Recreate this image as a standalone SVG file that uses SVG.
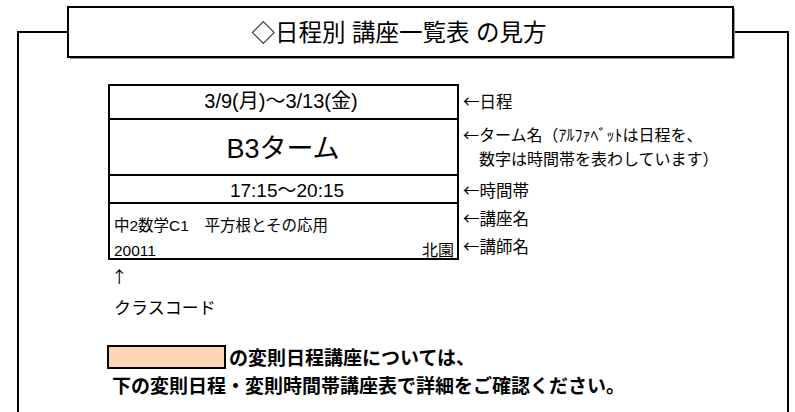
<svg xmlns="http://www.w3.org/2000/svg" width="795" height="412" viewBox="0 0 795 412">
<style>
.ln{fill:none;stroke:#000;stroke-width:2}
.t{font-family:"Liberation Sans","Noto Sans CJK JP",sans-serif;fill:#000}
.j{font-family:"Noto Sans CJK JP","Liberation Sans",sans-serif;fill:#000}
.b{font-weight:bold}
</style>
<rect width="795" height="412" fill="#fff"/>
<g id="frame">
<path class="ln" d="M18,412 V32 H68 M733,32 H788 V412"/>
</g>
<g id="title">
<path d="M70,58.5 H734.5 V9" fill="none" stroke="#999" stroke-width="1"/>
<rect class="ln" x="68" y="7" width="665" height="50" fill="#fff"/>
<text class="t" x="399" y="41" font-size="23.5" text-anchor="middle">◇日程別 講座一覧表 の見方</text>
</g>
<g id="table">
<rect class="ln" x="109" y="85" width="349" height="174"/>
<path class="ln" d="M109,119 H458 M109,175 H458 M109,203 H458"/>
<text class="t" x="281" y="108" font-size="20" text-anchor="middle">3/9(月)～3/13(金)</text>
<text class="t" x="283" y="158" font-size="27" text-anchor="middle">B3ターム</text>
<text class="t" x="287" y="197" font-size="19" text-anchor="middle">17:15～20:15</text>
<text class="t" x="114" y="231" font-size="15.5">中2数学C1　平方根とその応用</text>
<text class="t" x="114" y="256" font-size="15.5">20011</text>
<text class="t" x="454" y="256" font-size="16" text-anchor="end">北園</text>
</g>
<g id="labels">
<text class="j" x="463" y="108" font-size="16.5">←日程</text>
<text class="j" x="463" y="141" font-size="16">←ターム名（ｱﾙﾌｧﾍﾞｯﾄは日程を、</text>
<text class="j" x="479" y="165" font-size="16">数字は時間帯を表わしています）</text>
<text class="j" x="463" y="197" font-size="16.5">←時間帯</text>
<text class="j" x="463" y="225" font-size="16.5">←講座名</text>
<text class="j" x="463" y="253" font-size="16.5">←講師名</text>
<text class="j" x="111" y="283" font-size="16.5">↑</text>
<text class="j" x="114" y="314" font-size="17">クラスコード</text>
</g>
<g id="note">
<rect x="108" y="346" width="117" height="22" fill="#FCD5B4" stroke="#000" stroke-width="2"/>
<text class="t b" x="229" y="365" font-size="19">の変則日程講座については、</text>
<text class="t b" x="112" y="393" font-size="19">下の変則日程・変則時間帯講座表で詳細をご確認ください。</text>
</g>
</svg>
